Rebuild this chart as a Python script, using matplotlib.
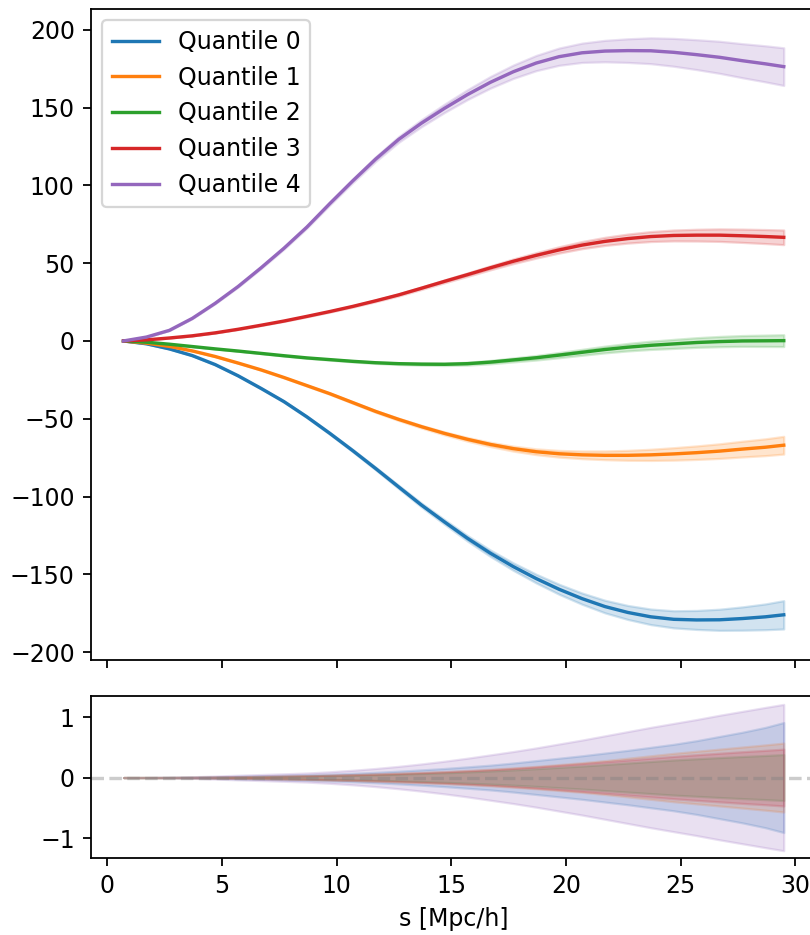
import numpy as np
import matplotlib
matplotlib.use("Agg")
from matplotlib import pyplot as plt

# separation s [Mpc/h]
s = [0.7, 1.7, 2.7, 3.7, 4.7, 5.7, 6.7, 7.7, 8.7, 9.7,
     10.7, 11.7, 12.7, 13.7, 14.7, 15.7, 16.7, 17.7, 18.7, 19.7,
     20.7, 21.7, 22.7, 23.7, 24.7, 25.7, 26.7, 27.7, 28.7, 29.5]

# mean curve per quantile
q0 = [0, -1.8, -5.1, -9.4, -15.2, -22.4, -30.5, -39.0, -48.8, -59.4,
      -70.5, -82.0, -93.8, -105.5, -116.3, -126.8, -136.4, -145.0, -152.7, -159.6,
      -165.6, -170.7, -174.5, -177.3, -178.9, -179.3, -179.2, -178.4, -177.3, -176.0]
q1 = [0, -1.4, -3.5, -6.4, -10.0, -14.2, -18.6, -23.5, -28.7, -33.9,
      -39.6, -45.3, -50.4, -55.1, -59.4, -63.2, -66.5, -69.2, -71.2, -72.5,
      -73.2, -73.5, -73.5, -73.2, -72.6, -71.8, -70.8, -69.5, -68.3, -67.0]
q2 = [0, -0.8, -2.1, -3.6, -5.1, -6.5, -8.0, -9.5, -10.9, -12.0,
      -13.1, -14.0, -14.6, -14.9, -15.0, -14.6, -13.6, -12.2, -10.8, -9.1,
      -7.3, -5.5, -4.0, -2.8, -1.9, -1.0, -0.4, 0.0, 0.1, 0.2]
q3 = [0, 0.7, 1.9, 3.3, 5.2, 7.5, 10.1, 12.8, 15.8, 18.9,
      22.2, 25.8, 29.6, 33.9, 38.3, 42.6, 47.0, 51.2, 55.0, 58.5,
      61.6, 64.0, 65.8, 67.1, 67.8, 68.0, 68.0, 67.6, 67.1, 66.6]
q4 = [0, 2.5, 6.8, 14.5, 24.2, 35.0, 47.0, 59.6, 73.2, 88.3,
      102.9, 116.9, 129.5, 140.0, 149.5, 158.3, 166.2, 173.0, 178.6, 182.7,
      185.2, 186.3, 186.6, 186.5, 185.5, 184.0, 182.3, 180.1, 178.1, 176.3]

# band half-widths per quantile
e0 = [0, 0.01, 0.03, 0.07, 0.13, 0.2, 0.28, 0.36, 0.45, 0.56,
      0.7, 0.86, 1.05, 1.27, 1.5, 1.77, 2.05, 2.4, 2.8, 3.2,
      3.6, 4.05, 4.5, 5.0, 5.5, 6.1, 6.8, 7.5, 8.3, 9.1]
e1 = [0, 0.01, 0.02, 0.05, 0.09, 0.14, 0.19, 0.25, 0.32, 0.4,
      0.49, 0.6, 0.72, 0.85, 1.0, 1.17, 1.37, 1.6, 1.85, 2.15,
      2.45, 2.8, 3.2, 3.6, 4.0, 4.35, 4.7, 5.05, 5.4, 5.7]
e2 = [0, 0.01, 0.02, 0.03, 0.06, 0.09, 0.13, 0.18, 0.23, 0.3,
      0.37, 0.45, 0.55, 0.66, 0.78, 0.92, 1.08, 1.26, 1.46, 1.68,
      1.9, 2.15, 2.4, 2.65, 2.9, 3.1, 3.3, 3.48, 3.65, 3.8]
e3 = [0, 0.01, 0.02, 0.04, 0.08, 0.12, 0.17, 0.23, 0.3, 0.37,
      0.45, 0.55, 0.66, 0.79, 0.93, 1.1, 1.28, 1.5, 1.75, 2.02,
      2.3, 2.6, 2.9, 3.2, 3.5, 3.77, 4.02, 4.27, 4.5, 4.7]
e4 = [0, 0.02, 0.06, 0.13, 0.25, 0.38, 0.5, 0.62, 0.75, 0.95,
      1.2, 1.5, 1.85, 2.25, 2.7, 3.2, 3.75, 4.3, 4.9, 5.55,
      6.2, 6.9, 7.6, 8.3, 8.95, 9.6, 10.3, 10.95, 11.6, 12.1]

labels = ['Quantile 0', 'Quantile 1', 'Quantile 2', 'Quantile 3', 'Quantile 4']
means = [q0, q1, q2, q3, q4]
errs = [e0, e1, e2, e3, e4]

plt.rcParams['font.size'] = 10.5

dpi = 162
fig = plt.figure(figsize=(811 / dpi, 935 / dpi), dpi=dpi)
ax1 = fig.add_axes([0.1116, 0.2937, 0.8955, 0.6971])
ax2 = fig.add_axes([0.1116, 0.0824, 0.8955, 0.1733], sharex=ax1)

x = np.array(s)
for i in range(5):
    m = np.array(means[i])
    e = np.array(errs[i])
    c = 'C%d' % i
    ax1.plot(x, m, color=c, label=labels[i])
    ax1.fill_between(x, m - e, m + e, color=c, alpha=0.2)

# lower panel: relative spread
ax2.axhline(0, color='grey', ls='--', alpha=0.4)
for i in range(5):
    e = np.array(errs[i]) / 10
    ax2.fill_between(x, -e, e, color='C%d' % i, alpha=0.2)

ax1.set_ylim(-205.3, 213.6)
ax1.set_yticks([-200, -150, -100, -50, 0, 50, 100, 150, 200])
ax1.legend(loc='upper left')
plt.setp(ax1.get_xticklabels(), visible=False)

ax2.set_ylim(-1.33, 1.35)
ax2.set_yticks([-1, 0, 1])
ax2.set_xticks([0, 5, 10, 15, 20, 25, 30])
ax2.set_xlabel('s [Mpc/h]')

fig.savefig('out.png', dpi=dpi)
